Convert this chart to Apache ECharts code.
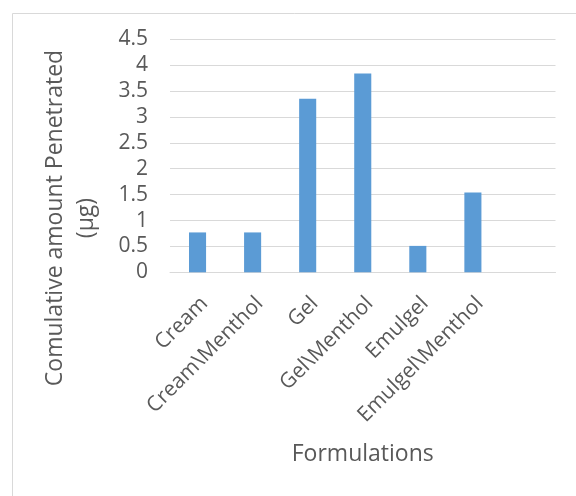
<!DOCTYPE html>
<html>
<head>
<meta charset="utf-8">
<script src="https://cdn.jsdelivr.net/npm/echarts@6/dist/echarts.min.js"></script>
<style>html,body{margin:0;padding:0;background:#fff;}#c{width:576px;height:496px;}</style>
</head>
<body>
<div id="c"></div>
<script>
const categories = ['Cream', 'Cream\\Menthol', 'Gel', 'Gel\\Menthol', 'Emulgel', 'Emulgel\\Menthol', ''];
const values = [0.77, 0.77, 3.35, 3.84, 0.51, 1.54, null];
const yTicks = { min: 0, max: 4.5, interval: 0.5 };
const xTitle = 'Formulations';
const yTitle = 'Comulative amount Penetrated\n(µg)';

const FONT = 'Open Sans';
const TXT = '#595959';
const chart = echarts.init(document.getElementById('c'), null, { renderer: 'canvas' });
chart.setOption({
  animation: false,
  backgroundColor: '#ffffff',
  textStyle: { fontFamily: FONT, color: TXT },
  graphic: [
    { type: 'rect', left: 10, top: 11, shape: { width: 620, height: 600 }, style: { fill: 'none', stroke: '#d9d9d9', lineWidth: 1 }, silent: true },
    { type: 'text', x: 71, y: 218, rotation: Math.PI / 2,
      style: { text: yTitle, font: '23px "Open Sans"', fill: TXT, align: 'center', verticalAlign: 'middle', lineHeight: 31 } }
  ],
  grid: { left: 170, right: 20.5, top: 39.3, bottom: 223.7, containLabel: false },
  xAxis: {
    type: 'category',
    data: categories,
    name: xTitle,
    nameLocation: 'middle',
    nameGap: 171,
    nameTextStyle: { fontFamily: FONT, fontSize: 23, color: TXT },
    axisLine: { show: true, lineStyle: { color: '#d9d9d9', width: 1 } },
    axisTick: { show: false },
    axisLabel: { rotate: 45, interval: 0, margin: 21, align: 'right', verticalAlign: 'top', lineHeight: 20, fontFamily: FONT, fontSize: 21, color: TXT }
  },
  yAxis: {
    type: 'value',
    min: yTicks.min,
    max: yTicks.max,
    interval: yTicks.interval,
    axisLine: { show: false },
    axisTick: { show: false },
    splitLine: { show: true, lineStyle: { color: '#d9d9d9', width: 1 } },
    axisLabel: { margin: 22, fontFamily: FONT, fontSize: 21, color: TXT }
  },
  series: [{
    type: 'bar',
    data: values,
    barWidth: '31%',
    itemStyle: { color: '#5b9bd5' }
  }]
});
</script>
</body>
</html>
